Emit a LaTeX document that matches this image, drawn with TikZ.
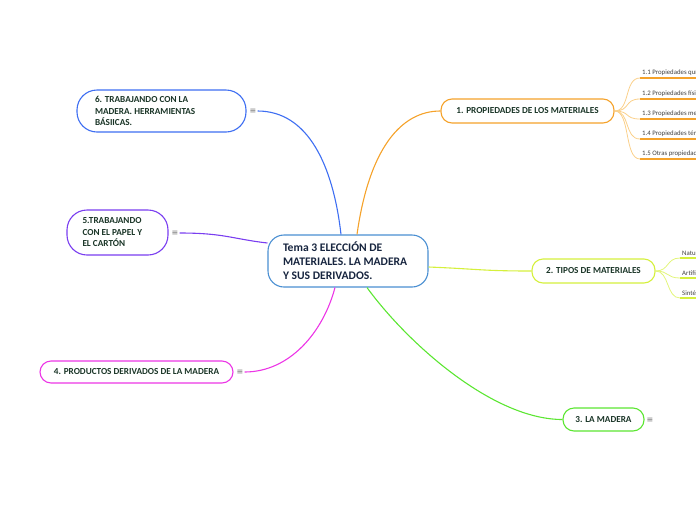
\documentclass[tikz,border=0pt]{standalone}
\usepackage{fontspec}
\setmainfont{Carlito}
\newfontfamily\symfont{DejaVu Sans}
\definecolor{txtgreen}{HTML}{1A3527}
\definecolor{txtnavy}{HTML}{17253F}
\definecolor{cblue}{HTML}{4A8FD2}
\definecolor{corange}{HTML}{F5A22A}
\definecolor{lorange}{HTML}{FAD08A}
\definecolor{cyellow}{HTML}{D5F03C}
\definecolor{lyellow}{HTML}{E2F57A}
\definecolor{cgreen}{HTML}{5CE632}
\definecolor{cmagenta}{HTML}{EC36E6}
\definecolor{cpurple}{HTML}{7A3EF0}
\definecolor{croyal}{HTML}{3E6EF2}
\begin{document}
\begin{tikzpicture}[x=1pt,y=-1pt,
  topic/.style={draw,rounded corners=11pt,line width=1.1pt,fill=white,
    font=\fontsize{9.2}{11.5}\selectfont\bfseries,text=txtgreen,inner sep=0pt},
  multi/.style={topic,rounded corners=20pt,align=flush left},
  leaf/.style={anchor=south west,inner sep=2pt,
    font=\fontsize{6.8}{8}\selectfont,text=black!75},
  more/.style={font=\symfont\fontsize{8}{8}\selectfont,text=black!55,inner sep=1pt},
  link/.style={line width=1.1pt}]
\useasboundingbox (0,0) rectangle (696,520);

% central topic
\node[draw=cblue,line width=1.1pt,rounded corners=16pt,fill=white,
  minimum width=160pt,minimum height=52pt,text width=130pt,inner xsep=15pt,
  align=flush left,text=txtnavy,
  font=\fontsize{11.6}{14}\selectfont\bfseries] (C) at (348,261)
  {Tema 3 ELECCIÓN DE\\MATERIALES. LA MADERA\\Y SUS DERIVADOS.};

% main topics
\node[topic,draw=corange,minimum width=173pt,minimum height=24pt] (T1) at (527.5,111) {1. PROPIEDADES DE LOS MATERIALES};
\node[topic,draw=cyellow,minimum width=123pt,minimum height=24pt] (T2) at (593.5,271) {2. TIPOS DE MATERIALES};
\node[topic,draw=cgreen,minimum width=81pt,minimum height=23pt] (T3) at (603.5,419.5) {3. LA MADERA};
\node[topic,draw=cmagenta,minimum width=193pt,minimum height=22pt] (T4) at (136.5,372) {4. PRODUCTOS DERIVADOS DE LA MADERA};
\node[multi,draw=cpurple,minimum width=101pt,minimum height=45pt,text width=70pt,inner xsep=15.5pt] (T5) at (117.5,232.5) {5.TRABAJANDO\\CON EL PAPEL Y\\EL CARTÓN};
\node[multi,draw=croyal,minimum width=169pt,minimum height=42pt,text width=133pt,inner xsep=18pt] (T6) at (161.5,111) {6. TRABAJANDO CON LA\\MADERA. HERRAMIENTAS\\BÁSIICAS.};

% collapsed markers
\node[more] (M3) at (650,420) {≡};
\node[more] (M4) at (240,372) {≡};
\node[more] (M5) at (175,233) {≡};
\node[more] (M6) at (253,111) {≡};

% subtopics of 1
\node[leaf] (L11) at (640,78) {1.1 Propiedades químicas};
\node[leaf] (L12) at (640,99) {1.2 Propiedades físicas};
\node[leaf] (L13) at (640,119) {1.3 Propiedades mecánicas};
\node[leaf] (L14) at (640,139) {1.4 Propiedades térmicas};
\node[leaf] (L15) at (640,159) {1.5 Otras propiedades};
% subtopics of 2
\node[leaf] (L21) at (680,258) {Naturales};
\node[leaf] (L22) at (680,278) {Artificiales};
\node[leaf] (L23) at (680,298) {Sintéticos};

% underlines
\foreach \n in {L11,L12,L13,L14,L15}
  \draw[corange,line width=2pt] (\n.south west) -- (\n.south east);
\foreach \n in {L21,L22,L23}
  \draw[cyellow,line width=2pt] (\n.south west) -- (\n.south east);

% leaf connectors
\foreach \n in {L11,L12,L13,L14,L15}
  \draw[lorange,line width=0.8pt] (T1.east) .. controls +(16,0) and +(-16,0) .. (\n.south west);
\foreach \n in {L21,L22,L23}
  \draw[lyellow,line width=0.8pt] (T2.east) .. controls +(14,0) and +(-14,0) .. (\n.south west);

% main connectors
\draw[link,corange] ([xshift=9pt]C.north) .. controls +(12,-85) and +(-40,0) .. (T1.west);
\draw[link,cyellow] ([yshift=-6pt]C.east) .. controls +(50,2) and +(-50,0) .. (T2.west);
\draw[link,cgreen] ([xshift=19pt]C.south) .. controls +(40,55) and +(-70,0) .. (T3.west);
\draw[link,cmagenta] (M4.east) .. controls +(45,0) and +(-12,45) .. ([xshift=-13pt]C.south);
\draw[link,cpurple] (M5.east) .. controls +(45,0) and +(-35,-4) .. ([yshift=18pt]C.west);
\draw[link,croyal] (M6.east) .. controls +(50,0) and +(-8,-70) .. ([xshift=-7pt]C.north);
\end{tikzpicture}
\end{document}
